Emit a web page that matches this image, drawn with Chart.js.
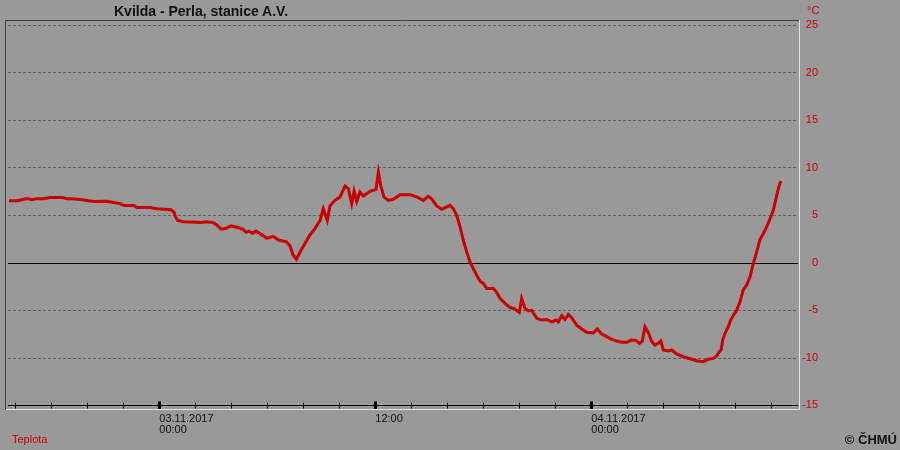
<!DOCTYPE html>
<html>
<head>
<meta charset="utf-8">
<title>Kvilda - Perla, stanice A.V.</title>
<script src="https://cdn.jsdelivr.net/npm/chart.js@4"></script>
<style>
  body { margin: 0; background: #999999; }
  #wrap { position: relative; width: 900px; height: 450px; background: #999999; font-family: "Liberation Sans", Arial, sans-serif; }
  #wrap canvas { position: absolute; left: 0; top: 0; }
  .txt { position: absolute; white-space: nowrap; }
  #title { left: 114px; top: 3px; font-size: 14px; line-height: 16px; font-weight: bold; color: #111; }
  #unit { left: 807px; top: 4px; font-size: 11px; line-height: 12px; color: #d00000; }
  #legend { left: 12px; top: 433px; font-size: 11px; line-height: 12px; color: #d00000; }
  #copy { right: 3px; top: 433px; font-size: 13px; line-height: 14px; font-weight: bold; color: #111; }
</style>
</head>
<body>
<div id="wrap">
  <canvas id="chart" width="900" height="450"></canvas>
  <div class="txt" id="title">Kvilda - Perla, stanice A.V.</div>
  <div class="txt" id="unit">°C</div>
  <div class="txt" id="legend">Teplota</div>
  <div class="txt" id="copy">© ČHMÚ</div>
</div>
<script>
// hours since 03.11.2017 00:00
const hours = [
  -8.35, -7.9, -7.63, -7.35, -7.07, -6.79, -6.46, -6.07, -5.35, -5.13,
  -4.85, -4.29, -3.96, -3.57, -2.91, -2.46, -2.18, -1.96, -1.41, -1.24,
  -0.52, -0.13, 0.32, 0.65, 0.82, 0.9, 1.01, 1.32, 1.82, 2.26,
  2.65, 2.98, 3.21, 3.43, 3.71, 3.98, 4.32, 4.65, 4.82, 4.98,
  5.18, 5.37, 5.76, 5.98, 6.32, 6.65, 7.04, 7.26, 7.43, 7.62,
  7.82, 8.09, 8.37, 8.65, 8.93, 9.11, 9.33, 9.48, 9.76, 10.04,
  10.32, 10.5, 10.69, 10.82, 10.97, 11.15, 11.33, 11.71, 12.04, 12.17,
  12.3, 12.48, 12.72, 13.0, 13.37, 13.93, 14.3, 14.67, 14.94, 15.13,
  15.41, 15.69, 15.97, 16.15, 16.33, 16.52, 16.71, 16.89, 17.08, 17.26,
  17.44, 17.63, 17.82, 18.0, 18.19, 18.56, 18.74, 18.93, 19.21, 19.48,
  19.76, 20.0, 20.13, 20.32, 20.5, 20.69, 20.97, 21.24, 21.52, 21.8,
  22.04, 22.17, 22.36, 22.54, 22.72, 22.91, 23.19, 23.47, 23.74, 24.11,
  24.33, 24.58, 24.86, 25.13, 25.41, 25.69, 25.97, 26.24, 26.48, 26.67,
  26.83, 26.98, 27.17, 27.36, 27.54, 27.72, 27.86, 28.0, 28.28, 28.47,
  28.74, 29.11, 29.48, 29.86, 30.22, 30.5, 30.78, 30.97, 31.11, 31.21,
  31.3, 31.43, 31.61, 31.74, 31.89, 32.08, 32.26, 32.44, 32.63, 32.82,
  33.0, 33.19, 33.37, 33.56, 33.74, 33.93, 34.11, 34.26, 34.39, 34.52
];
const teplota = [
  6.5, 6.5, 6.6, 6.72, 6.6, 6.72, 6.72, 6.83, 6.83, 6.7,
  6.72, 6.6, 6.5, 6.41, 6.44, 6.3, 6.2, 6.0, 5.99, 5.8,
  5.78, 5.67, 5.6, 5.55, 5.3, 4.8, 4.45, 4.3, 4.27, 4.2,
  4.3, 4.2, 3.92, 3.5, 3.6, 3.85, 3.71, 3.5, 3.18, 3.3,
  3.07, 3.3, 2.83, 2.55, 2.76, 2.34, 2.2, 1.75, 0.8, 0.35,
  1.1, 2.0, 2.9, 3.57, 4.44, 5.67, 4.44, 5.95, 6.54, 6.9,
  8.05, 7.77, 6.2, 7.5, 6.44, 7.42, 7.0, 7.49, 7.7, 9.5,
  8.1, 6.9, 6.54, 6.65, 7.14, 7.14, 6.9, 6.54, 6.96, 6.7,
  5.95, 5.6, 5.85, 6.02, 5.67, 4.97, 3.74, 2.34, 1.11, 0.06,
  -0.63, -1.33, -1.96, -2.2, -2.73, -2.73, -3.15, -3.78, -4.3, -4.73,
  -4.9, -5.25, -3.78, -4.83, -5.1, -5.04, -5.88, -6.06, -6.0, -6.24,
  -6.06, -6.24, -5.6, -6.0, -5.46, -5.8, -6.59, -7.0, -7.35, -7.42,
  -7.0, -7.53, -7.81, -8.09, -8.27, -8.4, -8.4, -8.16, -8.2, -8.51,
  -8.3, -6.76, -7.39, -8.34, -8.69, -8.51, -8.27, -9.21, -9.32, -9.21,
  -9.63, -9.92, -10.13, -10.34, -10.44, -10.19, -10.1, -9.84, -9.39, -9.21,
  -8.16, -7.46, -6.76, -6.06, -5.57, -5.01, -4.14, -2.91, -2.38, -1.51,
  -0.1, 1.11, 2.41, 3.05, 3.74, 4.62, 5.49, 6.72, 7.77, 8.57
];
// x tick labels (hour -> text)
const dayLabels = { 0: ['03.11.2017', '00:00'], 12: '12:00', 24: ['04.11.2017', '00:00'] };
const yTicksMin = -15, yTicksMax = 25;

const points = hours.map((h, i) => ({ x: h, y: teplota[i] }));

// grid lines, axis ticks on the -15 line and the sunken frame
const framePlugin = {
  id: 'framePlugin',
  beforeDatasetsDraw(chart) {
    const { ctx, chartArea: a, scales: { x, y } } = chart;
    ctx.save();
    y.ticks.forEach(t => {
      const py = Math.round(y.getPixelForValue(t.value)) + 0.5;
      ctx.beginPath();
      if (t.value === 0 || t.value === yTicksMin) {
        ctx.setLineDash([]);
        ctx.strokeStyle = '#000';
      } else {
        ctx.setLineDash([3, 2]);
        ctx.strokeStyle = '#606060';
      }
      ctx.lineWidth = 1;
      ctx.moveTo(a.left + 2, py);
      ctx.lineTo(a.right - 2, py);
      ctx.stroke();
    });
    ctx.setLineDash([]);
    const base = Math.round(y.getPixelForValue(yTicksMin)) + 0.5;
    x.ticks.forEach(t => {
      const px = Math.round(x.getPixelForValue(t.value)) + 0.5;
      const major = t.value % 12 === 0;
      ctx.beginPath();
      ctx.strokeStyle = '#000';
      ctx.lineWidth = major ? 3 : 1;
      ctx.moveTo(px, base - (major ? 4 : 3));
      ctx.lineTo(px, base + (major ? 4 : 3));
      ctx.stroke();
    });
    // frame: dark top/left, light bottom/right
    ctx.lineWidth = 1;
    ctx.strokeStyle = '#404040';
    ctx.beginPath();
    ctx.moveTo(a.left - 0.5, a.bottom);
    ctx.lineTo(a.left - 0.5, a.top + 0.5);
    ctx.lineTo(a.right, a.top + 0.5);
    ctx.stroke();
    ctx.strokeStyle = '#e4e4e4';
    ctx.beginPath();
    ctx.moveTo(a.left, a.bottom - 0.5);
    ctx.lineTo(a.right - 0.5, a.bottom - 0.5);
    ctx.lineTo(a.right - 0.5, a.top);
    ctx.stroke();
    ctx.restore();
  }
};

const ctx = document.getElementById('chart').getContext('2d');
new Chart(ctx, {
  type: 'line',
  data: {
    datasets: [{
      label: 'Teplota',
      data: points,
      borderColor: '#cc0000',
      borderWidth: 3,
      pointRadius: 0,
      tension: 0,
      fill: false
    }]
  },
  options: {
    responsive: false,
    animation: false,
    events: [],
    layout: { padding: { left: 6, top: 20, right: 82, bottom: 0 } },
    plugins: { legend: { display: false }, title: { display: false }, tooltip: { enabled: false } },
    scales: {
      x: {
        type: 'linear',
        position: 'bottom',
        min: -8.517,
        max: 35.594,
        afterFit(scale) { scale.height = 40; },
        grid: { display: false, drawTicks: false, tickLength: 0 },
        border: { display: false },
        ticks: {
          stepSize: 2,
          includeBounds: false,
          autoSkip: false,
          maxRotation: 0,
          align: 'start',
          padding: 3,
          color: '#111',
          font: { family: '"Liberation Sans", Arial, sans-serif', size: 11, lineHeight: 1 },
          callback: v => dayLabels[v] !== undefined ? dayLabels[v] : ''
        }
      },
      y: {
        position: 'right',
        min: -15.526,
        max: 25.526,
        afterFit(scale) { scale.width = 18; },
        grid: { display: false, drawTicks: false, tickLength: 0 },
        border: { display: false },
        ticks: {
          stepSize: 5,
          includeBounds: false,
          crossAlign: 'far',
          padding: 4,
          color: '#d00000',
          font: { family: '"Liberation Sans", Arial, sans-serif', size: 11 }
        }
      }
    }
  },
  plugins: [framePlugin]
});
</script>
</body>
</html>
